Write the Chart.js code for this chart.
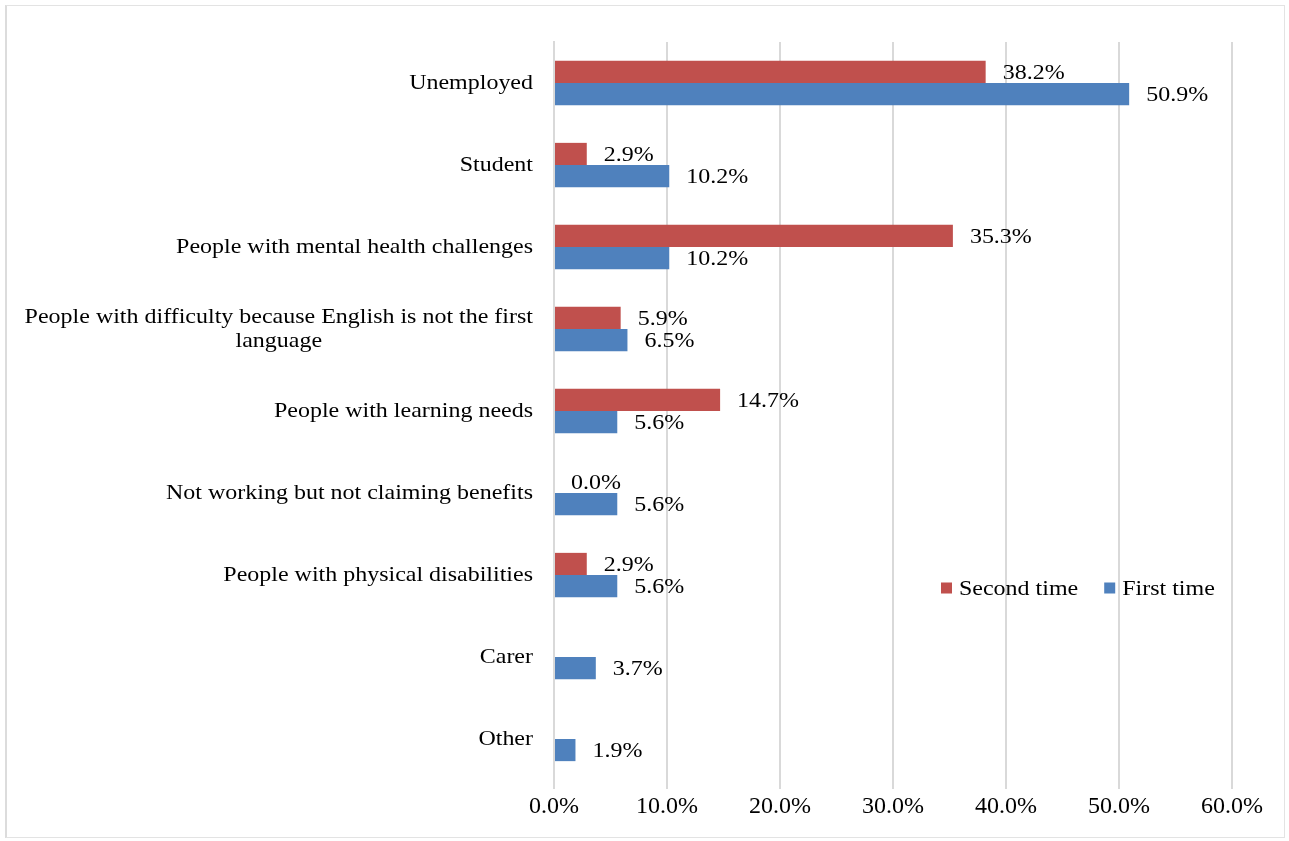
<!DOCTYPE html>
<html>
<head>
<meta charset="utf-8">
<script src="https://cdn.jsdelivr.net/npm/chart.js@4.4.0/dist/chart.umd.min.js"></script>
<style>
  html, body { margin: 0; padding: 0; background: #fff; }
  #frame { position: absolute; left: 5px; top: 5px; width: 1277px; height: 831px;
           border: 1px solid #e3e3e3; border-left: 2px solid #dcdcdc; }
  #wrap { position: absolute; left: 0; top: 0; width: 1289px; height: 841px; }
</style>
</head>
<body>
<div id="frame"></div>
<div id="wrap"><canvas id="myChart" width="1289" height="841"></canvas></div>
<script>
var categories = [
  'Unemployed',
  'Student',
  'People with mental health challenges',
  ['People with difficulty because English is not the first', 'language'],
  'People with learning needs',
  'Not working but not claiming benefits',
  'People with physical disabilities',
  'Carer',
  'Other'
];
var secondTime = [38.2, 2.9, 35.3, 5.9, 14.7, 0.0, 2.9, null, null];
var firstTime = [50.9, 10.2, 10.2, 6.5, 5.6, 5.6, 5.6, 3.7, 1.9];
var xTicks = [0, 10, 20, 30, 40, 50, 60];

var FONT = '"Liberation Serif", "Times New Roman", serif';
var FS = 22;
var SX = 1.09; // the original text is a little wider than Liberation Serif

function drawText(ctx, s, x, y, align) {
  var w = ctx.measureText(s).width * SX;
  var left = align === 'right' ? x - w : align === 'center' ? x - w / 2 : x;
  ctx.save();
  ctx.textAlign = 'left';
  ctx.translate(left, y);
  ctx.scale(SX, 1);
  ctx.fillText(s, 0, 0);
  ctx.restore();
  return w;
}

// value labels to the right of each bar
var valueLabels = {
  id: 'valueLabels',
  afterDatasetsDraw: function(chart) {
    var ctx = chart.ctx;
    ctx.save();
    ctx.font = FS + 'px ' + FONT;
    ctx.fillStyle = '#000';
    ctx.textBaseline = 'middle';
    chart.data.datasets.forEach(function(ds, i) {
      chart.getDatasetMeta(i).data.forEach(function(bar, j) {
        var v = ds.data[j];
        if (v === null || v === undefined) return;
        drawText(ctx, v.toFixed(1) + '%', bar.x + 17, bar.y + 1, 'left');
      });
    });
    ctx.restore();
  }
};

// category labels, multi-line ones centred on their widest line
var catLabels = {
  id: 'catLabels',
  afterDraw: function(chart) {
    var ctx = chart.ctx;
    var y = chart.scales.y;
    ctx.save();
    ctx.font = FS + 'px ' + FONT;
    ctx.fillStyle = '#000';
    ctx.textBaseline = 'middle';
    var right = chart.chartArea.left - 21;
    categories.forEach(function(c, i) {
      var py = y.getPixelForValue(i);
      if (Array.isArray(c)) {
        var w = Math.max.apply(null, c.map(function(s) { return ctx.measureText(s).width * SX; }));
        var cx = right - w / 2;
        var lh = FS * 1.1;
        c.forEach(function(s, k) {
          drawText(ctx, s, cx, py + (k - (c.length - 1) / 2) * lh, 'center');
        });
      } else {
        drawText(ctx, c, right, py, 'right');
      }
    });
    ctx.restore();
  }
};

// legend inside the plot, lower right
var innerLegend = {
  id: 'innerLegend',
  afterDraw: function(chart) {
    var ctx = chart.ctx;
    var a = chart.chartArea;
    var ly = a.top + 546;
    var lx = a.right - 291;
    ctx.save();
    ctx.font = FS + 'px ' + FONT;
    ctx.textBaseline = 'middle';
    chart.data.datasets.forEach(function(ds) {
      ctx.fillStyle = ds.backgroundColor;
      ctx.fillRect(lx, ly - 5.5, 11, 11);
      ctx.fillStyle = '#000';
      var w = drawText(ctx, ds.label, lx + 18, ly + 1, 'left');
      lx += 18 + w + 26;
    });
    ctx.restore();
  }
};

var ctx = document.getElementById('myChart').getContext('2d');
var myChart = new Chart(ctx, {
  type: 'bar',
  data: {
    labels: categories,
    datasets: [{
        label: 'Second time',
        data: secondTime,
        backgroundColor: '#C0504D',
        categoryPercentage: 0.54,
        barPercentage: 1.0
      }, {
        label: 'First time',
        data: firstTime,
        backgroundColor: '#4F81BD',
        categoryPercentage: 0.54,
        barPercentage: 1.0
      }
    ]
  },
  options: {
    indexAxis: 'y',
    responsive: false,
    animation: false,
    layout: { padding: { left: 10, right: 57, top: 42, bottom: 0 } },
    plugins: {
      legend: { display: false },
      tooltip: { enabled: false }
    },
    scales: {
      x: {
        min: 0,
        max: 60,
        afterBuildTicks: function(scale) {
          scale.ticks = xTicks.map(function(v) { return { value: v }; });
        },
        afterFit: function(scale) { scale.height = 61; },
        grid: { color: '#d9d9d9', lineWidth: 2, tickLength: 9 },
        border: { display: false },
        ticks: {
          color: '#000',
          padding: 3,
          font: { family: FONT, size: 24 },
          callback: function(v) { return Number(v).toFixed(1) + '%'; }
        }
      },
      y: {
        afterFit: function(scale) { scale.width = 544; },
        grid: { display: false },
        border: { color: '#d9d9d9', width: 2 },
        ticks: { display: false }
      }
    }
  },
  plugins: [valueLabels, catLabels, innerLegend]
});
</script>
</body>
</html>
